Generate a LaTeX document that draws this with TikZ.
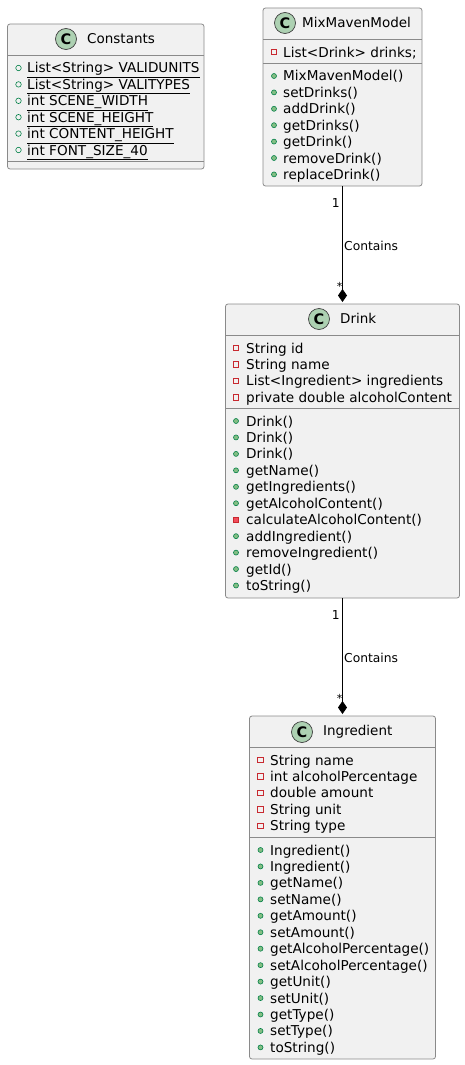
\documentclass[tikz,border=0pt]{standalone}
\usepackage{fontspec}
\setmainfont{DejaVu Sans}
\usetikzlibrary{arrows.meta}
\definecolor{boxfill}{HTML}{F1F1F1}
\definecolor{boxedge}{HTML}{8A8A8A}
\definecolor{iconfill}{HTML}{ADD1B2}
\definecolor{pubedge}{HTML}{038048}
\definecolor{pubfill}{HTML}{84BE84}
\definecolor{privedge}{HTML}{C82930}
\definecolor{privfill}{HTML}{F24D5C}
\tikzset{classbox/.style={rectangle, draw=boxedge, fill=boxfill, rounded corners=2.5pt, inner sep=0pt, outer sep=0pt, line width=0.8pt}}
\tikzset{classicon/.style={circle, draw=black!75, fill=iconfill, minimum size=21pt, inner sep=0pt, line width=0.7pt, font=\fontsize{14.5}{14.5}\selectfont\bfseries}}
\tikzset{classname/.style={anchor=west, inner sep=0pt, text height=10pt, text depth=1pt, font=\fontsize{13.5}{15}\selectfont}}
\tikzset{member/.style={anchor=west, inner sep=0pt, text height=13pt, text depth=3pt, font=\fontsize{13.6}{15}\selectfont}}
\tikzset{pubdot/.style={circle, draw=pubedge, fill=pubfill, minimum size=5pt, inner sep=0pt, line width=0.6pt}}
\tikzset{pubring/.style={circle, draw=pubedge, minimum size=5.5pt, inner sep=0pt, line width=0.6pt}}
\tikzset{privbox/.style={rectangle, draw=privedge, minimum size=5.5pt, inner sep=0pt, line width=0.6pt}}
\tikzset{privfull/.style={rectangle, draw=privedge, fill=privfill, minimum size=5.5pt, inner sep=0pt, line width=0.6pt}}
\tikzset{sepline/.style={draw=boxedge, line width=0.8pt}}
\tikzset{line/.style={draw, line width=0.8pt, shorten >=2pt, -{Diamond[length=13pt, width=9pt]}}}
\tikzset{edgetext/.style={inner sep=0pt, text height=10pt, text depth=0pt, font=\fontsize{12.3}{14}\selectfont}}
\tikzset{edgestar/.style={inner sep=0pt, font=\fontsize{11}{12}\selectfont}}

\begin{document}
\begin{tikzpicture}[x=1pt, y=-1pt]
        \useasboundingbox (0,0) rectangle (465,1065);

        % boxes
        \node[classbox, minimum width=196.5pt, minimum height=145pt] (constants) at (105.75,96.5) {};
        \node[classbox, minimum width=159pt, minimum height=178pt] (mixmaven) at (342.5,97) {};
        \node[classbox, minimum width=234pt, minimum height=294pt] (drink) at (342.5,451) {};
        \node[classbox, minimum width=186pt, minimum height=343pt] (ingredient) at (342.5,887.5) {};

        % headers
        \node[classicon] (constantsicon) at (66,39) {C};
        \node[classname] (constantsname) at (87,39) {Constants};
        \node[classicon] (mixmavenicon) at (285,23) {C};
        \node[classname] (mixmavenname) at (302,23) {MixMavenModel};
        \node[classicon] (drinkicon) at (319,319) {C};
        \node[classname] (drinkname) at (340,319) {Drink};
        \node[classicon] (ingredienticon) at (302,732) {C};
        \node[classname] (ingredientname) at (323,731) {Ingredient};

        % compartments
        \path[sepline] (constants.west |- 0,55) -- (constants.east |- 0,55);
        \path[sepline] (constants.west |- 0,161) -- (constants.east |- 0,161);
        \path[sepline] (mixmaven.west |- 0,39.5) -- (mixmaven.east |- 0,39.5);
        \path[sepline] (mixmaven.west |- 0,63) -- (mixmaven.east |- 0,63);
        \path[sepline] (drink.west |- 0,335) -- (drink.east |- 0,335);
        \path[sepline] (drink.west |- 0,408) -- (drink.east |- 0,408);
        \path[sepline] (ingredient.west |- 0,747) -- (ingredient.east |- 0,747);
        \path[sepline] (ingredient.west |- 0,837) -- (ingredient.east |- 0,837);

        % members
        \foreach \n/\vis/\txt in {0/pubring/{List<String> VALIDUNITS}, 1/pubring/{List<String> VALITYPES},
            2/pubring/{int SCENE\_WIDTH}, 3/pubring/{int SCENE\_HEIGHT},
            4/pubring/{int CONTENT\_HEIGHT}, 5/pubring/{int FONT\_SIZE\_40}} {
            \node[\vis] (constantsdot\n) at (18.5,68+16.4*\n) {};
            \node[member] (constantsattr\n) at (27,68+16.4*\n) {\underline{\smash{\txt}\vphantom{g}}};
        }
        \node[privbox] (mixmavendot) at (274,52) {};
        \node[member] (mixmavenattr) at (283,52) {List<Drink> drinks;};
        \foreach \n/\vis/\txt in {0/pubdot/{MixMavenModel()}, 1/pubdot/{setDrinks()}, 2/pubdot/{addDrink()},
            3/pubdot/{getDrinks()}, 4/pubdot/{getDrink()}, 5/pubdot/{removeDrink()}, 6/pubdot/{replaceDrink()}} {
            \node[\vis] (mixmavenopdot\n) at (274,76+16.4*\n) {};
            \node[member] (mixmavenop\n) at (283,76+16.4*\n) {\txt};
        }
        \foreach \n/\vis/\txt in {0/privbox/{String id}, 1/privbox/{String name},
            2/privbox/{List<Ingredient> ingredients}, 3/privbox/{private double alcoholContent}} {
            \node[\vis] (drinkdot\n) at (236,348+16.4*\n) {};
            \node[member] (drinkattr\n) at (246,348+16.4*\n) {\txt};
        }
        \foreach \n/\vis/\txt in {0/pubdot/{Drink()}, 1/pubdot/{Drink()}, 2/pubdot/{Drink()}, 3/pubdot/{getName()},
            4/pubdot/{getIngredients()}, 5/pubdot/{getAlcoholContent()}, 6/privfull/{calculateAlcoholContent()},
            7/pubdot/{addIngredient()}, 8/pubdot/{removeIngredient()}, 9/pubdot/{getId()}, 10/pubdot/{toString()}} {
            \node[\vis] (drinkopdot\n) at (236,421+16.45*\n) {};
            \node[member] (drinkop\n) at (246,421+16.45*\n) {\txt};
        }
        \foreach \n/\vis/\txt in {0/privbox/{String name}, 1/privbox/{int alcoholPercentage}, 2/privbox/{double amount},
            3/privbox/{String unit}, 4/privbox/{String type}} {
            \node[\vis] (ingredientdot\n) at (260.5,760+16.4*\n) {};
            \node[member] (ingredientattr\n) at (270,760+16.4*\n) {\txt};
        }
        \foreach \n/\vis/\txt in {0/pubdot/{Ingredient()}, 1/pubdot/{Ingredient()}, 2/pubdot/{getName()}, 3/pubdot/{setName()},
            4/pubdot/{getAmount()}, 5/pubdot/{setAmount()}, 6/pubdot/{getAlcoholPercentage()}, 7/pubdot/{setAlcoholPercentage()},
            8/pubdot/{getUnit()}, 9/pubdot/{setUnit()}, 10/pubdot/{getType()}, 11/pubdot/{setType()}, 12/pubdot/{toString()}} {
            \node[\vis] (ingredientopdot\n) at (260.5,850+16.45*\n) {};
            \node[member] (ingredientop\n) at (270,850+16.45*\n) {\txt};
        }

        % links
        \path[line] (mixmaven.south) -- (drink.north);
        \path[line] (drink.south) -- (ingredient.north);
        \node[edgetext, anchor=east] (mixmavenone) at (340,202) {1};
        \node[edgetext, anchor=west] (mixmavenlink) at (344,245) {Contains};
        \node[edgestar] (drinkmany) at (339.5,286) {*};
        \node[edgetext, anchor=east] (drinkone) at (340,614) {1};
        \node[edgetext, anchor=west] (drinklink) at (344,657) {Contains};
        \node[edgestar] (ingredientmany) at (339.5,698) {*};
     \end{tikzpicture}
\end{document}
